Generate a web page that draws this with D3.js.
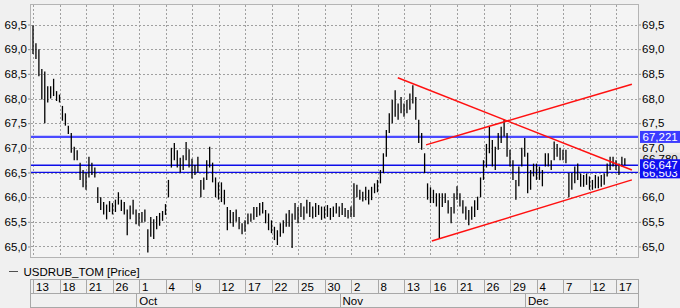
<!DOCTYPE html>
<html>
<head>
<meta charset="utf-8">
<script src="https://cdn.jsdelivr.net/npm/d3@7"></script>
<style>
body { margin: 0; background: #f0f0f0; }
svg { display: block; font-family: "Liberation Sans", Arial, sans-serif; font-size: 11.5px; }
</style>
</head>
<body>
<svg id="chart" width="680" height="308"></svg>
<script>
// USDRUB_TOM, Sep 13 - Dec 17 (2018), three bars per trading day
let hi = [
  69.15,69.48,69.12,69.00,68.60,68.55,68.25,68.25,68.40,68.15,68.08,67.85,67.70,67.45,67.30,67.02,66.95,66.70,66.55,66.50,
  66.82,66.70,66.60,66.20,66.00,65.90,65.85,65.92,65.88,65.95,66.10,65.95,65.90,65.75,65.83,65.95,65.75,65.68,65.70,65.75,
  65.35,65.60,65.55,65.62,65.68,65.72,65.86,66.35,67.00,67.10,66.95,66.80,66.85,67.12,66.97,66.78,66.65,66.82,66.35,66.40,
  66.75,67.02,66.70,66.40,66.30,66.30,66.15,65.80,65.74,65.70,65.75,65.60,65.47,65.53,65.67,65.67,65.80,65.80,65.88,65.90,
  65.74,65.67,65.53,65.40,65.33,65.47,65.53,65.67,65.74,65.67,65.88,65.80,65.88,65.81,65.95,65.90,65.81,65.88,65.84,65.81,
  65.81,65.84,65.78,65.81,65.88,65.81,65.88,65.78,65.74,65.81,66.28,66.25,66.15,66.11,66.21,66.15,66.21,66.28,66.35,66.55,
  66.89,67.36,67.70,67.97,68.17,67.90,68.03,67.90,67.97,68.10,68.27,68.03,67.57,67.30,66.89,66.28,66.20,66.15,66.08,66.08,
  66.08,66.08,65.94,65.80,66.08,66.22,66.08,65.94,65.81,65.74,65.81,65.94,66.01,66.40,66.75,67.08,67.43,67.16,67.02,67.30,
  67.43,67.57,67.30,66.96,66.75,66.35,66.62,67.00,67.20,66.90,66.55,66.68,66.68,66.62,66.55,66.89,66.89,66.75,67.13,67.08,
  67.00,66.96,66.96,66.49,66.49,66.62,66.68,66.48,66.45,66.48,66.42,66.35,66.45,66.42,66.45,66.48,66.68,66.82,66.82,66.75,
  66.68,66.82,66.79
];
let lo = [
  68.70,68.90,68.80,68.45,67.98,67.50,67.92,68.00,68.05,67.95,67.92,67.55,67.45,67.28,66.90,66.75,66.75,66.35,66.20,66.15,
  66.40,66.45,66.40,65.88,65.74,65.65,65.55,65.70,65.65,65.70,65.85,65.72,65.65,65.23,65.55,65.65,65.45,65.42,65.48,65.50,
  64.88,65.20,65.15,65.35,65.42,65.52,65.64,66.00,66.60,66.75,66.60,66.50,66.55,66.75,66.60,66.38,66.45,66.50,66.00,66.15,
  66.35,66.60,66.30,66.00,65.95,65.90,65.85,65.33,65.47,65.40,65.50,65.35,65.25,65.30,65.45,65.50,65.54,65.60,65.63,65.67,
  65.47,65.33,65.27,65.13,65.03,65.20,65.27,65.40,65.40,64.97,65.54,65.47,65.60,65.54,65.67,65.60,65.57,65.60,65.64,65.54,
  65.57,65.60,65.54,65.60,65.67,65.60,65.64,65.60,65.57,65.60,65.60,66.00,65.95,65.91,65.94,65.85,65.94,66.08,66.10,66.28,
  66.49,66.82,67.30,67.50,67.63,67.57,67.70,67.63,67.70,67.77,67.90,67.57,67.10,66.96,66.49,65.95,65.88,65.88,65.81,65.17,
  65.80,65.88,65.67,65.47,65.67,65.95,65.81,65.67,65.54,65.43,65.54,65.60,65.74,66.00,66.35,66.60,66.89,66.62,66.55,66.96,
  67.10,67.23,66.82,66.62,66.35,65.95,66.22,66.62,66.82,66.08,66.15,66.42,66.35,66.35,66.22,66.62,66.62,66.55,66.75,66.82,
  66.75,66.75,66.69,66.00,66.15,66.28,66.35,66.21,66.21,66.25,66.15,66.15,66.18,66.18,66.21,66.25,66.42,66.55,66.62,66.55,
  66.45,66.62,66.65
];

// date row: one label every third trading day
let dayLabels = ["13","18","21","26","1","4","9","12","17","22","25","30","2","8","13","16","21","26","29","4","7","12","17"];
let monthNames = ["Oct", "Nov", "Dec"];
let monthStart = [12, 35, 56];   // trading-day index of the first session of the month

let priceTicks = [65.0, 65.5, 66.0, 66.5, 67.0, 67.5, 68.0, 68.5, 69.0, 69.5];
let levels = [67.221, 66.647, 66.503];
let lastPrice = 66.780;

// red trend lines: [tradingDay, price] end points
let trendLines = [
  [[41.3, 68.42], [67.8, 66.55]],
  [[44.5, 67.06], [67.8, 68.29]],
  [[45.15, 65.11], [67.8, 66.35]]
];

const pLeft = 30, pRight = 638, pTop = 4, pBottom = 257;
const barsPerDay = 3, firstBar = -1 / 3;

let ru = d3.formatLocale({decimal: ",", thousands: " ", grouping: [3], currency: ["", ""]});
let fmt1 = ru.format(".1f"), fmt3 = ru.format(".3f");

let x = d3.scaleLinear().domain([0, 66]).range([33, 616]);
let y = d3.scaleLinear().domain([64.787, 69.916]).range([pBottom, pTop]);

let svg = d3.select("#chart");

svg.append("rect").attr("width", 680).attr("height", 308).attr("fill", "#f0f0f0");
svg.append("rect")
  .attr("x", pLeft + 0.5).attr("y", pTop + 0.5)
  .attr("width", pRight - pLeft).attr("height", pBottom - pTop)
  .attr("fill", "#f4f4f4").attr("stroke", "#b4b4b4");

svg.append("clipPath").attr("id", "plotclip")
  .append("rect").attr("x", pLeft + 1).attr("y", pTop + 1)
  .attr("width", pRight - pLeft - 1).attr("height", pBottom - pTop - 1);

// grid
let tickIdx = dayLabels.map((d, i) => i * 3);
let grid = svg.append("g").attr("stroke", "#a0a0a0").attr("stroke-dasharray", "2,2").attr("shape-rendering", "crispEdges");
grid.selectAll(".hg").data(priceTicks).enter().append("line")
  .attr("x1", pLeft + 1).attr("x2", pRight)
  .attr("y1", d => Math.round(y(d)) + 0.5).attr("y2", d => Math.round(y(d)) + 0.5);
grid.selectAll(".vg").data(tickIdx).enter().append("line")
  .attr("y1", pTop + 1).attr("y2", pBottom)
  .attr("x1", d => Math.round(x(d)) + 0.5).attr("x2", d => Math.round(x(d)) + 0.5);

// y axes, both sides
let yl = svg.append("g").attr("transform", `translate(${pLeft},0)`)
  .call(d3.axisLeft(y).tickValues(priceTicks).tickFormat(fmt1).tickSize(2).tickPadding(1));
let yr = svg.append("g").attr("transform", `translate(${pRight + 1},0)`)
  .call(d3.axisRight(y).tickValues(priceTicks).tickFormat(fmt1).tickSize(2).tickPadding(1));
[yl, yr].forEach(g => {
  g.select(".domain").remove();
  g.selectAll("line").attr("stroke", "#909090");
  g.selectAll("text").attr("fill", "#000").style("font-size", "11.5px").style("font-family", "'Liberation Sans', Arial, sans-serif");
});

let plot = svg.append("g").attr("clip-path", "url(#plotclip)");

// blue horizontal levels
plot.selectAll(".lvl").data(levels).enter().append("line")
  .attr("x1", pLeft).attr("x2", pRight)
  .attr("y1", d => y(d)).attr("y2", d => y(d))
  .attr("stroke", (d, i) => i === 0 ? "#4a4aff" : "#0c0ce8")
  .attr("stroke-width", (d, i) => i === 0 ? 2.2 : 1.4);

// price bars
plot.append("g").selectAll("line").data(hi).enter().append("line")
  .attr("x1", (d, i) => x(firstBar + i / barsPerDay))
  .attr("x2", (d, i) => x(firstBar + i / barsPerDay))
  .attr("y1", d => y(d))
  .attr("y2", (d, i) => y(lo[i]))
  .attr("stroke", "#000").attr("stroke-width", 1.3);

// trend lines
plot.selectAll(".tl").data(trendLines).enter().append("line")
  .attr("x1", d => x(d[0][0])).attr("y1", d => y(d[0][1]))
  .attr("x2", d => x(d[1][0])).attr("y2", d => y(d[1][1]))
  .attr("stroke", "#ff1010").attr("stroke-width", 1.5);

// value labels on the right axis
let tags = svg.append("g");
function tag(v, fill, color) {
  let g = tags.append("g").attr("transform", `translate(640,${y(v)})`);
  g.append("rect").attr("x", 0).attr("y", -6).attr("width", 40).attr("height", 12).attr("fill", fill);
  g.append("text").attr("x", 2.5).attr("y", 4.2).attr("fill", color).text(fmt3(v));
}
tag(lastPrice, "#e4e4e4", "#000");
tag(levels[2], "#1010f0", "#fff");
tag(levels[1], "#1010f0", "#fff");
tag(levels[0], "#3c3cff", "#fff");

// legend
svg.append("line").attr("x1", 9).attr("x2", 18).attr("y1", 271.5).attr("y2", 271.5).attr("stroke", "#505050");
svg.append("text").attr("x", 23.5).attr("y", 275.5).attr("fill", "#000").text("USDRUB_TOM [Price]");

// date rows
let rows = svg.append("g").attr("shape-rendering", "crispEdges");
rows.append("rect").attr("x", pLeft + 0.5).attr("y", 279.5).attr("width", pRight - pLeft).attr("height", 14)
  .attr("fill", "#f0f0f0").attr("stroke", "#a8a8a8");
rows.append("rect").attr("x", pLeft + 0.5).attr("y", 293.5).attr("width", pRight - pLeft).attr("height", 14)
  .attr("fill", "#f0f0f0").attr("stroke", "#a8a8a8");
rows.selectAll(".dsep").data(tickIdx).enter().append("line")
  .attr("x1", d => Math.round(x(d)) + 0.5).attr("x2", d => Math.round(x(d)) + 0.5)
  .attr("y1", 280).attr("y2", 293).attr("stroke", "#a8a8a8");
rows.selectAll(".dlab").data(dayLabels).enter().append("text")
  .attr("x", (d, i) => x(tickIdx[i]) + 3).attr("y", 290.5).attr("fill", "#000").text(d => d);
rows.selectAll(".msep").data(monthStart).enter().append("line")
  .attr("x1", d => Math.round(x(d - 0.3)) + 0.5).attr("x2", d => Math.round(x(d - 0.3)) + 0.5)
  .attr("y1", 294).attr("y2", 308).attr("stroke", "#a8a8a8");
rows.selectAll(".mlab").data(monthNames).enter().append("text")
  .attr("x", (d, i) => x(monthStart[i] - 0.3) + 3).attr("y", 304.5).attr("fill", "#000").text(d => d);
</script>
</body>
</html>
